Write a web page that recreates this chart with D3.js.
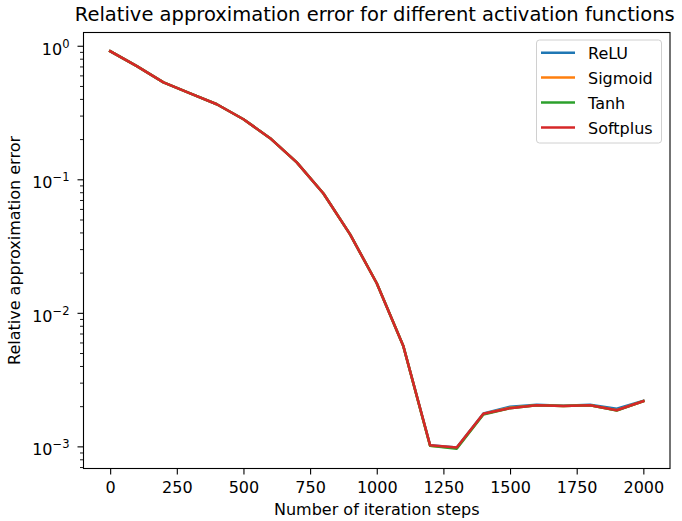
<!DOCTYPE html>
<html>
<head>
<meta charset="utf-8">
<script src="https://cdn.jsdelivr.net/npm/d3@7"></script>
<style>
  body { margin: 0; background: #fff; }
  svg text { font-family: "DejaVu Sans", sans-serif; fill: #000; }
</style>
</head>
<body>
<svg id="chart" width="682" height="521"></svg>
<script>
// Iteration steps at which the error was recorded
const steps = [0, 100, 200, 300, 400, 500, 600, 700, 800, 900, 1000,
               1100, 1200, 1300, 1400, 1500, 1600, 1700, 1800, 1900, 2000];

// Relative approximation error per activation function
const relu     = [0.918, 0.71, 0.537, 0.444, 0.368, 0.284, 0.205, 0.135, 0.079, 0.039, 0.0168,
                  0.00566, 0.00103, 0.00099, 0.00178, 0.00200, 0.00207, 0.00203, 0.00207, 0.00193, 0.00221];
const sigmoid  = [0.918, 0.71, 0.537, 0.444, 0.368, 0.284, 0.205, 0.135, 0.079, 0.039, 0.0168,
                  0.00566, 0.00102, 0.00098, 0.00176, 0.00196, 0.00205, 0.00202, 0.00205, 0.00188, 0.00220];
const tanh     = [0.918, 0.71, 0.537, 0.444, 0.368, 0.284, 0.205, 0.135, 0.079, 0.039, 0.0168,
                  0.00566, 0.00102, 0.00097, 0.00175, 0.00195, 0.00205, 0.00202, 0.00205, 0.00187, 0.00220];
const softplus = [0.918, 0.71, 0.537, 0.444, 0.368, 0.284, 0.205, 0.135, 0.079, 0.039, 0.0168,
                  0.00566, 0.00103, 0.00099, 0.00177, 0.00195, 0.00205, 0.00202, 0.00205, 0.00188, 0.00220];

const seriesNames  = ["ReLU", "Sigmoid", "Tanh", "Softplus"];
const seriesColors = ["#1f77b4", "#ff7f0e", "#2ca02c", "#d62728"];
const seriesValues = [relu, sigmoid, tanh, softplus];

const xTicks = [0, 250, 500, 750, 1000, 1250, 1500, 1750, 2000];
const yDecades = [-3, -2, -1, 0];

const title  = "Relative approximation error for different activation functions";
const xTitle = "Number of iteration steps";
const yTitle = "Relative approximation error";

const svg = d3.select("#chart");
const plot = { left: 83.5, right: 670, top: 32.5, bottom: 468.5 };
const fs = 16;

const x = d3.scaleLinear().domain([-100, 2100]).range([plot.left, plot.right]);
const y = d3.scaleLog().domain([Math.pow(10, -3.162), Math.pow(10, 0.103)])
            .range([plot.bottom, plot.top]);

// Series lines
const line = d3.line()
  .x((d, i) => x(steps[i]))
  .y(d => y(d));

const lines = svg.append("g");
seriesValues.forEach((vals, k) => {
  lines.append("path")
    .datum(vals)
    .attr("d", line)
    .attr("fill", "none")
    .attr("stroke", seriesColors[k])
    .attr("stroke-width", 2.5)
    .attr("stroke-linejoin", "round")
    .attr("stroke-linecap", "square");
});

// X axis
const xAxis = d3.axisBottom(x).tickValues(xTicks).tickSize(6).tickPadding(7).tickFormat(d3.format("d"));
const gx = svg.append("g").attr("transform", `translate(0,${plot.bottom})`).call(xAxis);
gx.select(".domain").remove();
gx.selectAll("line").attr("stroke", "#000").attr("stroke-width", 1.1);
gx.selectAll("text").style("font-size", fs + "px").style("font-family", "DejaVu Sans");

// Y axis: major decade ticks with superscript labels and minor ticks
const [ylo, yhi] = y.domain();
const minorVals = [];
for (let e = -4; e <= 1; e++) {
  for (let m = 2; m <= 9; m++) {
    const v = m * Math.pow(10, e);
    if (v >= ylo && v <= yhi) minorVals.push(v);
  }
}
const gy = svg.append("g");
gy.selectAll("line.minor").data(minorVals).join("line")
  .attr("class", "minor")
  .attr("x1", plot.left - 3.5).attr("x2", plot.left)
  .attr("y1", d => y(d)).attr("y2", d => y(d))
  .attr("stroke", "#000").attr("stroke-width", 0.9);
gy.selectAll("line.major").data(yDecades).join("line")
  .attr("class", "major")
  .attr("x1", plot.left - 6).attr("x2", plot.left)
  .attr("y1", d => y(Math.pow(10, d))).attr("y2", d => y(Math.pow(10, d)))
  .attr("stroke", "#000").attr("stroke-width", 1.1);
const yl = gy.selectAll("text.ylab").data(yDecades).join("text")
  .attr("class", "ylab")
  .attr("x", plot.left - 14)
  .attr("y", d => y(Math.pow(10, d)) + 8.5)
  .attr("text-anchor", "end")
  .style("font-size", fs + "px");
yl.each(function(d) {
  const t = d3.select(this);
  t.append("tspan").text("10");
  t.append("tspan").attr("dy", -7).style("font-size", "11.5px").text(d === 0 ? "0" : "\u2212" + Math.abs(d));
});

// Frame
svg.append("rect")
  .attr("x", plot.left).attr("y", plot.top)
  .attr("width", plot.right - plot.left).attr("height", plot.bottom - plot.top)
  .attr("fill", "none").attr("stroke", "#000").attr("stroke-width", 1.1);

// Titles
svg.append("text").attr("x", (plot.left + plot.right) / 2 - 2).attr("y", 20.7)
  .attr("text-anchor", "middle").style("font-size", "19.5px").text(title);
svg.append("text").attr("x", (plot.left + plot.right) / 2).attr("y", 515)
  .attr("text-anchor", "middle").style("font-size", fs + "px").text(xTitle);
svg.append("text")
  .attr("transform", `translate(20,${(plot.top + plot.bottom) / 2}) rotate(-90)`)
  .attr("text-anchor", "middle").style("font-size", fs + "px").text(yTitle);

// Legend
const lg = svg.append("g");
lg.append("rect").attr("x", 536.5).attr("y", 40).attr("width", 125).attr("height", 103)
  .attr("rx", 3).attr("fill", "#fff").attr("fill-opacity", 0.8)
  .attr("stroke", "#d0d0d0").attr("stroke-width", 1);
seriesNames.forEach((name, k) => {
  const yy = 52.7 + k * 24.9;
  lg.append("line").attr("x1", 541).attr("x2", 575).attr("y1", yy).attr("y2", yy)
    .attr("stroke", seriesColors[k]).attr("stroke-width", 2.5);
  lg.append("text").attr("x", 588).attr("y", yy + 6.3).style("font-size", fs + "px").text(name);
});
</script>
</body>
</html>
